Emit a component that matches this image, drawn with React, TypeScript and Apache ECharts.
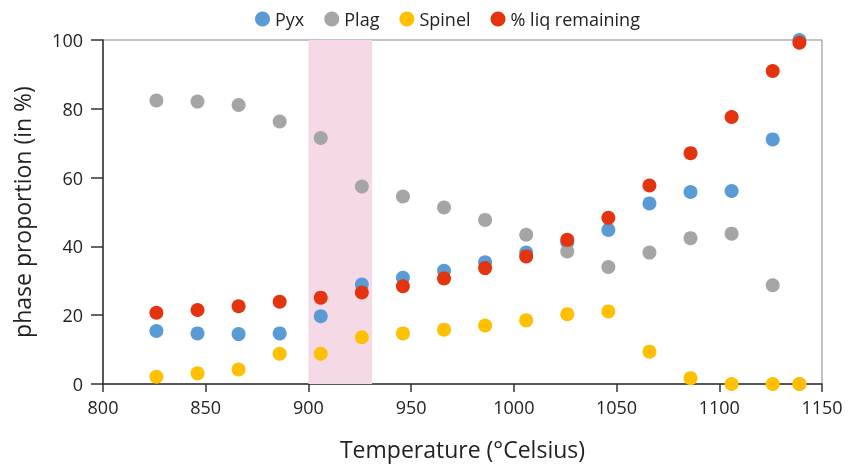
import React, { useEffect, useRef } from "react";
import * as echarts from "echarts";

const temperatures = [826, 846, 866, 886, 906, 926, 946, 966, 986, 1006, 1026, 1046, 1066, 1086, 1106, 1126, 1139];
const pyx = [15.4, 14.7, 14.5, 14.7, 19.7, 28.9, 30.9, 32.9, 35.4, 38.2, 41.2, 44.8, 52.5, 55.8, 56.1, 71.1, 100];
const plag = [82.4, 82.1, 81.1, 76.3, 71.5, 57.4, 54.5, 51.3, 47.7, 43.4, 38.5, 34.0, 38.2, 42.4, 43.7, 28.7, 0];
const spinel = [2.1, 3.1, 4.2, 8.8, 8.8, 13.6, 14.7, 15.8, 17.0, 18.5, 20.3, 21.1, 9.4, 1.7, 0, 0, 0];
const liq = [20.7, 21.5, 22.6, 23.9, 25.1, 26.6, 28.4, 30.7, 33.7, 37.1, 41.9, 48.3, 57.7, 67.1, 77.6, 91.0, 99.2];
const seriesNames = ["Pyx", "Plag", "Spinel", "% liq remaining"];
const seriesColors = ["#5b9bd5", "#a5a5a5", "#ffc000", "#e2350f"];
const band = [900, 931];

const FONT = "'Open Sans', 'Noto Sans', sans-serif";

export default function App() {
  const ref = useRef<HTMLDivElement>(null);
  useEffect(() => {
    if (!ref.current) return;
    const chart = echarts.init(ref.current, undefined, { renderer: "svg" });
    const all = [pyx, plag, spinel, liq];
    chart.setOption({
      animation: false,
      textStyle: { fontFamily: FONT },
      legend: {
        top: 5,
        left: 250,
        icon: "circle",
        itemWidth: 15,
        itemHeight: 15,
        itemGap: 20,
        textStyle: { fontSize: 18, color: "#222", fontFamily: FONT },
        data: seriesNames,
      },
      grid: {
        left: 103,
        right: 31,
        top: 40,
        bottom: 79,
        show: true,
        borderColor: "#888",
        borderWidth: 1,
      },
      xAxis: {
        type: "value",
        min: 800,
        max: 1150,
        interval: 50,
        name: "Temperature (°Celsius)",
        nameLocation: "middle",
        nameGap: 53,
        nameTextStyle: { fontSize: 23, color: "#222", fontFamily: FONT },
        axisLine: { show: true, lineStyle: { color: "#333", width: 1.5 } },
        axisTick: { show: true, length: 8, lineStyle: { color: "#333", width: 1.5 } },
        axisLabel: {
          fontSize: 18,
          color: "#222",
          margin: 14,
          fontFamily: FONT,
          formatter: (v: number) => String(v),
        },
        splitLine: { show: false },
      },
      yAxis: {
        type: "value",
        min: 0,
        max: 100,
        interval: 20,
        name: "phase proportion (in %)",
        nameLocation: "middle",
        nameGap: 70,
        nameTextStyle: { fontSize: 23, color: "#222", fontFamily: FONT },
        axisLine: { show: true, lineStyle: { color: "#333", width: 1.5 } },
        axisTick: { show: true, length: 12, lineStyle: { color: "#333", width: 1.5 } },
        axisLabel: {
          fontSize: 18,
          color: "#222",
          margin: 20,
          fontFamily: FONT,
          formatter: (v: number) => String(v),
        },
        splitLine: { show: false },
      },
      series: seriesNames.map((name, i) => ({
        name,
        type: "scatter",
        symbol: "circle",
        symbolSize: 14,
        itemStyle: { color: seriesColors[i], opacity: 1 },
        z: 3 + i,
        data: temperatures.map((t, k) => [t, all[i][k]]),
        ...(i === 0
          ? {
              markArea: {
                silent: true,
                itemStyle: { color: "#f6d9e6" },
                data: [[{ xAxis: band[0] }, { xAxis: band[1] }]],
              },
            }
          : {}),
      })),
    });
    return () => chart.dispose();
  }, []);
  return (
    <div
      ref={ref}
      style={{ position: "fixed", left: 0, top: 0, width: 853, height: 465 }}
    />
  );
}
